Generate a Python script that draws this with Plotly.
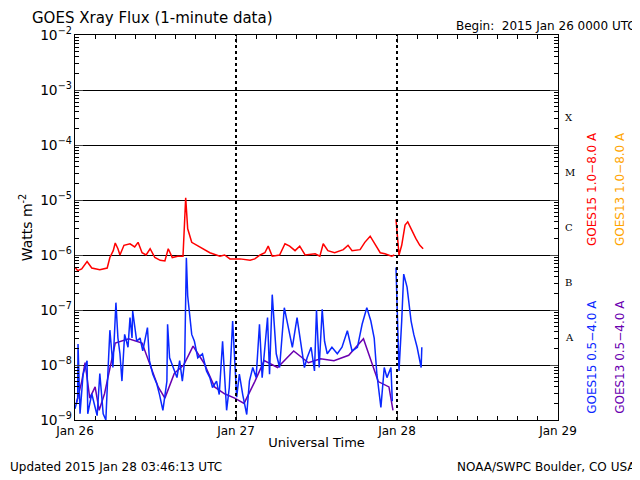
import plotly.graph_objects as go
import pandas as pd

base = pd.Timestamp("2015-01-26 00:00")

# GOES15 long channel (hours since start, W/m^2); None = data gap
red_h = [0,0.4,1.0,1.8,2.5,3.7,4.8,5.2,5.7,6.0,6.4,6.7,7.3,8.2,8.9,9.4,10.0,10.6,11.2,11.9,12.7,13.4,13.9,14.5,15.3,16.1,16.5,16.8,17.4,18.6,20.1,21.6,22.3,23.1,24.6,26.1,26.8,27.6,28.3,28.8,29.4,30.5,31.3,32.0,32.8,33.5,34.3,35.8,36.5,37.0,37.7,38.7,40.0,40.7,41.3,42.5,43.2,44.0,44.7,45.5,46.2,47.2,47.6,47.7,47.85,48.3,48.7,49.2,49.6,50.2,50.8,51.4,51.9]
red_v = [6.0e-7,5.2e-7,5.6e-7,7.6e-7,5.8e-7,5.4e-7,5.8e-7,9e-7,1.2e-6,1.65e-6,1.3e-6,1.0e-6,1.5e-6,1.6e-6,1.4e-6,1.7e-6,1.1e-6,1.0e-6,1.3e-6,9e-7,8e-7,7.8e-7,1.3e-6,9e-7,9.5e-7,9.5e-7,1.1e-5,3e-6,1.7e-6,1.4e-6,1.1e-6,9.5e-7,1.0e-6,8.5e-7,8.5e-7,8.0e-7,8.5e-7,1.0e-6,1.1e-6,1.45e-6,9.5e-7,1.0e-6,1.6e-6,1.45e-6,1.2e-6,1.45e-6,1.0e-6,1.05e-6,9.5e-7,1.6e-6,1.2e-6,1.1e-6,1.25e-6,1.5e-6,1.2e-6,1.25e-6,1.7e-6,2.2e-6,1.6e-6,1.1e-6,1.05e-6,9.5e-7,1.0e-6,None,4.5e-6,1.0e-6,1.5e-6,3.5e-6,4.0e-6,2.8e-6,2.0e-6,1.5e-6,1.3e-6]

# GOES15 short channel
blue_h = [0.0,0.4,0.45,0.75,1.2,1.8,1.9,2.5,3.3,3.7,4.2,4.6,4.9,5.2,5.5,5.65,6.1,6.4,6.7,7.0,7.4,7.9,8.2,8.5,8.6,9.2,9.7,10.1,10.8,11.1,11.6,12.2,12.6,13.1,13.7,13.8,14.1,14.6,15.2,15.6,16.0,16.35,16.6,16.8,17.4,17.8,18.3,19.0,19.6,20.1,20.5,21.1,21.5,22.0,22.6,23.0,23.5,24.1,24.5,25.0,25.6,26.0,26.5,27.0,27.5,27.9,28.5,28.7,29.0,29.4,30.0,30.5,31.2,31.7,32.4,33.1,33.7,34.2,34.6,35.2,35.7,36.0,36.4,36.85,37.2,37.6,38.3,39.1,39.8,40.6,41.3,42.1,42.8,43.5,44.1,44.6,45.0,45.6,46.1,46.5,47.1,47.3,47.6,47.85,48.3,48.7,49.0,49.5,50.1,50.5,51.0,51.6,51.7]
blue_v = [1.6e-9,2.5e-9,2.4e-8,1.3e-9,6.7e-9,1.2e-8,1.3e-9,3e-9,1.2e-9,7e-9,1.3e-9,1.0e-9,7e-9,4.3e-8,1.6e-8,9e-9,1.36e-7,3.1e-8,1.6e-8,5.1e-9,3.6e-8,2.1e-8,7.3e-8,3.1e-8,9.6e-8,2.7e-8,3.1e-8,1.8e-8,4.8e-8,1.2e-8,6.8e-9,4.5e-9,2.9e-9,1.5e-9,5.1e-9,5.5e-8,1.35e-8,9e-9,5.9e-9,1.2e-8,5.1e-9,1.2e-8,8.9e-7,1.8e-7,3.6e-8,2.7e-8,1.35e-8,1.6e-8,7.8e-9,5.9e-9,3.9e-9,5.1e-9,2.9e-9,2.7e-8,1.5e-9,3.9e-9,6.3e-8,2.6e-9,6.8e-9,2.9e-9,1.26e-9,5.1e-9,9e-9,5.9e-9,5.5e-8,5.9e-9,3.6e-8,7.3e-8,6.8e-9,1.9e-7,1.6e-8,9e-9,1.1e-7,5.5e-8,2.1e-8,7.3e-8,2.1e-8,9e-9,1.35e-8,2.1e-8,7.8e-9,1.0e-7,9e-9,1.03e-7,2.7e-8,1.6e-8,2.1e-8,1.6e-8,2.1e-8,4.2e-8,1.8e-8,2.1e-8,5.5e-8,1.1e-7,6.3e-8,3.1e-8,6.8e-9,1.7e-9,9e-9,5.9e-9,9e-9,2.2e-9,None,5.9e-7,7.8e-9,6.3e-8,4.5e-7,2.6e-7,6.3e-8,3.6e-8,2.1e-8,9e-9,2.1e-8]

# GOES13 short channel
purple_h = [0.2,1.0,1.5,2.2,3.0,3.6,4.4,6.0,8.0,10.0,12.4,13.4,14.8,16.2,17.6,19.2,20.8,22.3,23.8,25.2,26.8,28.2,30.2,32.6,34.8,36.6,38.6,40.8,43.0,45.2,46.8,47.4]
purple_v = [2.0e-9,5e-9,1.1e-8,2.5e-9,4e-9,1.5e-9,3e-9,2.5e-8,3e-8,2.5e-8,4e-9,2.5e-9,7e-9,1e-8,2.2e-8,1.1e-8,4e-9,3e-9,2.5e-9,2e-9,5e-9,1.2e-8,9e-9,1.8e-8,1.1e-8,1.3e-8,1.2e-8,1.5e-8,3e-8,5e-9,4e-9,1.5e-9]

def times(hs):
    return [base + pd.Timedelta(hours=h) for h in hs]

fig = go.Figure()
fig.add_trace(go.Scatter(x=times(purple_h), y=purple_v, mode="lines", line=dict(color="#6a00b0", width=1.5), connectgaps=False))
fig.add_trace(go.Scatter(x=times(blue_h), y=blue_v, mode="lines", line=dict(color="#0a28ff", width=1.5), connectgaps=False))
fig.add_trace(go.Scatter(x=times(red_h), y=red_v, mode="lines", line=dict(color="#ff0000", width=1.5), connectgaps=False))

for d in ["2015-01-27", "2015-01-28"]:
    fig.add_shape(type="line", x0=d, x1=d, y0=0, y1=1, yref="paper", line=dict(color="black", width=2, dash="dot"))

tickvals = ["2015-01-26", "2015-01-27", "2015-01-28", "2015-01-29"]
ticktext = ["Jan 26", "Jan 27", "Jan 28", "Jan 29"]
fig.update_layout(
    width=632, height=472, showlegend=False,
    plot_bgcolor="white", paper_bgcolor="white",
    margin=dict(l=67, r=82, t=27, b=60),
    font=dict(family="DejaVu Sans", size=12, color="black"),
    xaxis=dict(range=["2015-01-26", "2015-01-29"], tickvals=tickvals, ticktext=ticktext, automargin=False,
               ticks="inside", ticklen=8, mirror="ticks", showline=True, linecolor="black",
               showgrid=False, minor=dict(ticks="inside", ticklen=4, dtick=3*3600*1000, tickcolor="black"),
               tickfont=dict(size=12),
               title=dict(text="Universal Time", standoff=0, font=dict(size=13))),
    yaxis=dict(type="log", range=[-9, -2], dtick=1, exponentformat="power", automargin=False,
               ticks="inside", ticklen=8, mirror="ticks", showline=True, linecolor="black",
               showgrid=True, gridcolor="black", gridwidth=1, tickfont=dict(size=11),
               minor=dict(ticks="inside", ticklen=4, tickcolor="black", showgrid=False),
               title=dict(text="Watts m<sup>-2</sup>", standoff=4, font=dict(size=14))),
)

anns = [
    dict(x=0.0, y=1.0, xref="paper", yref="paper", xanchor="left", yanchor="bottom", xshift=-45, yshift=6,
         text="GOES Xray Flux (1-minute data)", font=dict(size=15)),
    dict(x=1.0, y=1.0, xref="paper", yref="paper", xanchor="right", yanchor="bottom", xshift=80, yshift=0,
         text="Begin:  2015 Jan 26 0000 UTC", font=dict(size=12)),
    dict(x=0, y=0, xref="paper", yref="paper", xanchor="left", yanchor="top", xshift=-67, yshift=-38,
         text="Updated 2015 Jan 28 03:46:13 UTC", font=dict(size=12)),
    dict(x=1, y=0, xref="paper", yref="paper", xanchor="right", yanchor="top", xshift=80, yshift=-38,
         text="NOAA/SWPC Boulder, CO USA", font=dict(size=12)),
]
for lab, e in [("X", -3.5), ("M", -4.5), ("C", -5.5), ("B", -6.5), ("A", -7.5)]:
    anns.append(dict(x=1, xref="paper", y=e, yref="y", text=lab, showarrow=False,
                     xanchor="left", xshift=5, font=dict(family="DejaVu Serif", size=10)))
for txt, col, xs, ymid in [("GOES15 1.0−8.0 A", "#ff0000", 34, 0.60), ("GOES13 1.0−8.0 A", "#ffa500", 62, 0.60),
                           ("GOES15 0.5−4.0 A", "#0a28ff", 34, 0.164), ("GOES13 0.5−4.0 A", "#6a00b0", 62, 0.164)]:
    anns.append(dict(x=1, xref="paper", y=ymid, yref="paper", text=txt, textangle=-90, showarrow=False,
                     xanchor="center", yanchor="middle",
                     xshift=xs, font=dict(size=12, color=col)))
for a in anns:
    a.setdefault("showarrow", False)
fig.update_layout(annotations=anns)
fig.write_html("out.html")
